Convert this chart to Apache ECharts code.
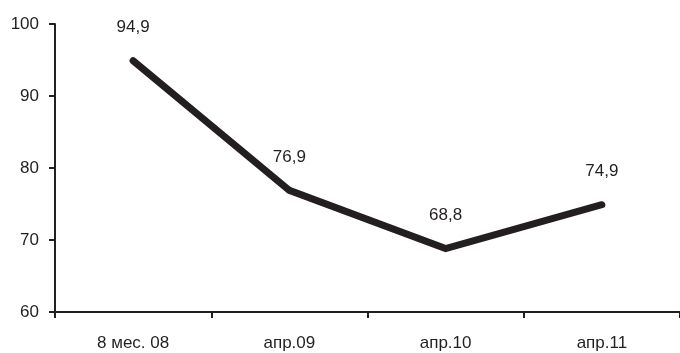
<!DOCTYPE html>
<html><head><meta charset="utf-8">
<script src="https://cdn.jsdelivr.net/npm/echarts@6/dist/echarts.min.js"></script>
<style>html,body{margin:0;padding:0;background:#fff}#c{width:680px;height:353px}</style>
</head><body><div id="c"></div>
<script>
const categories = ['8 мес. 08', 'апр.09', 'апр.10', 'апр.11'];
const values = [94.9, 76.9, 68.8, 74.9];
const yMin = 60, yMax = 100, yStep = 10;
const ink = '#231f20';
const font = '"Liberation Sans", Arial, sans-serif';
const chart = echarts.init(document.getElementById('c'));
chart.setOption({
  animation: false,
  grid: { left: 55, top: 24, right: -7, bottom: 41, containLabel: false },
  xAxis: {
    type: 'category', data: categories, boundaryGap: true,
    axisLine: { lineStyle: { color: ink, width: 2 } },
    axisTick: { show: true, length: 6, lineStyle: { color: ink, width: 2 } },
    axisLabel: { color: ink, fontFamily: font, fontSize: 17, margin: 23 },
    splitLine: { show: false }
  },
  yAxis: {
    type: 'value', min: yMin, max: yMax, interval: yStep,
    axisLine: { show: true, lineStyle: { color: ink, width: 2 } },
    axisTick: { show: true, length: 6, lineStyle: { color: ink, width: 2 } },
    axisLabel: { color: ink, fontFamily: font, fontSize: 17, margin: 16 },
    splitLine: { show: false }
  },
  series: [{
    type: 'line', data: values, symbol: 'circle', symbolSize: 2, showSymbol: true,
    itemStyle: { color: 'transparent', borderWidth: 0 },
    lineStyle: { color: ink, width: 7, cap: 'round', join: 'miter' },
    label: {
      show: true, position: 'top', distance: 24, color: ink,
      fontFamily: font, fontSize: 17,
      formatter: p => String(p.value).replace('.', ',')
    }
  }]
});
</script></body></html>
